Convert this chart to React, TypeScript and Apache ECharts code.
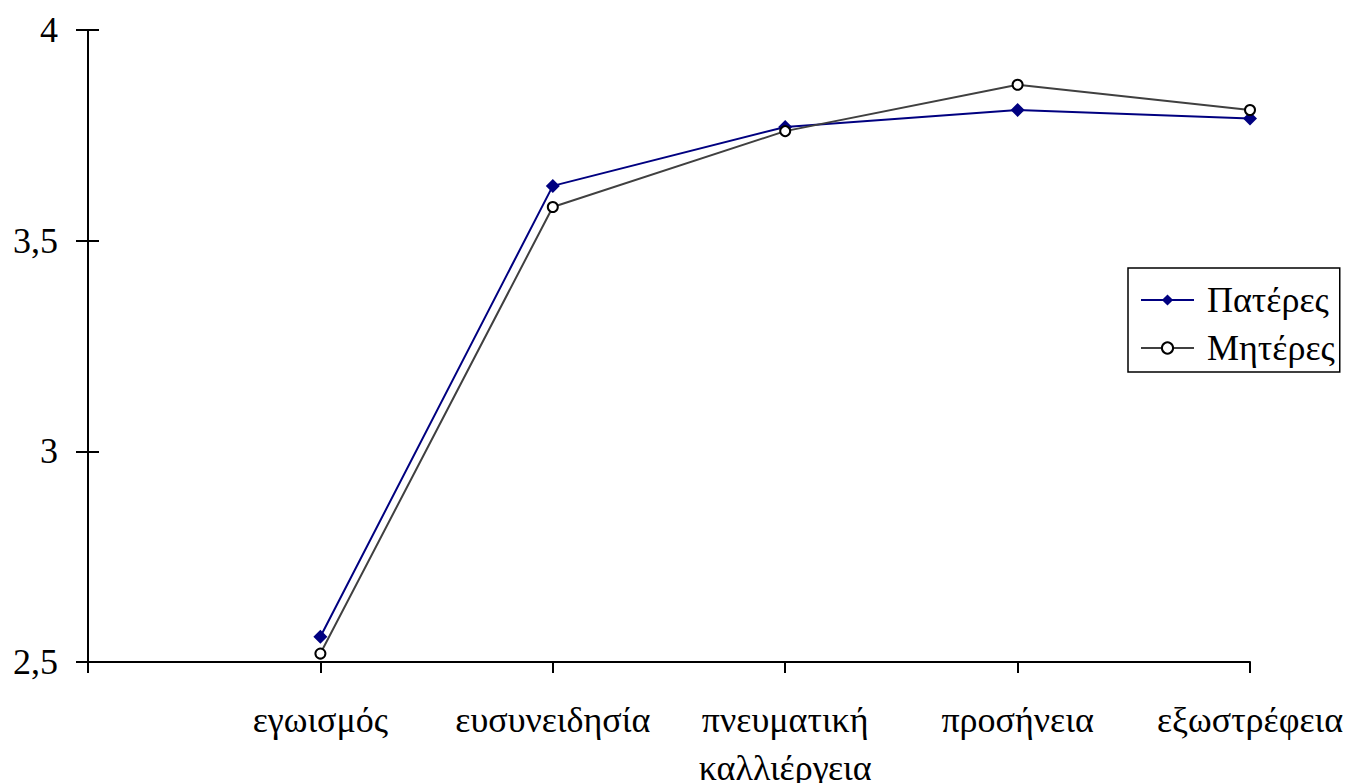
import React, { useEffect, useRef } from "react";
import * as echarts from "echarts";

const categories = ["", "εγωισμός", "ευσυνειδησία", "πνευματική\nκαλλιέργεια", "προσήνεια", "εξωστρέφεια"];
const fathers = [null, 2.56, 3.63, 3.77, 3.81, 3.79];
const mothers = [null, 2.52, 3.58, 3.76, 3.87, 3.81];
const yTicks = [2.5, 3, 3.5, 4];

const FONT = "Liberation Serif";
const FS = 36;

export default function App() {
  const ref = useRef<HTMLDivElement>(null);
  useEffect(() => {
    if (!ref.current) return;
    const chart = echarts.init(ref.current, null, { renderer: "svg" });
    chart.setOption({
      animation: false,
      backgroundColor: "#ffffff",
      textStyle: { fontFamily: FONT, fontSize: FS },
      grid: {
        left: 88,
        right: 102,
        top: 30,
        bottom: 121,
        containLabel: false,
        outerBoundsMode: "none",
      },
      legend: {
        left: 1128,
        top: 268,
        orient: "vertical",
        borderColor: "#000",
        borderWidth: 1.5,
        borderRadius: 0,
        padding: [14, 5, 6, 12],
        itemWidth: 53,
        itemHeight: 14,
        itemGap: 12,
        textStyle: { fontFamily: FONT, fontSize: FS, color: "#000", padding: [0, 0, 0, 8] },
        data: ["Πατέρες", "Μητέρες"],
      },
      xAxis: {
        type: "category",
        data: categories,
        boundaryGap: false,
        axisLine: { lineStyle: { color: "#000", width: 2 } },
        axisTick: { show: true, inside: false, length: 11, interval: 0, lineStyle: { color: "#000", width: 2 } },
        axisLabel: {
          interval: 0,
          color: "#000",
          fontFamily: FONT,
          fontSize: FS,
          lineHeight: 48,
          margin: 34,
          hideOverlap: false,
        },
        splitLine: { show: false },
      },
      yAxis: [
        {
          type: "value",
          min: 2.5,
          max: 4,
          interval: 0.5,
          axisLine: { show: true, lineStyle: { color: "#000", width: 2 } },
          axisTick: { show: true, inside: false, length: 12, lineStyle: { color: "#000", width: 2 } },
          axisLabel: {
            color: "#000",
            fontFamily: FONT,
            fontSize: FS,
            margin: 30,
            formatter: (v: number) => (yTicks.includes(v) ? String(v).replace(".", ",") : ""),
          },
          splitLine: { show: false },
        },
        {
          type: "value",
          min: 2.5,
          max: 4,
          interval: 0.5,
          position: "left",
          axisLine: { show: false },
          axisTick: { show: true, inside: true, length: 11, lineStyle: { color: "#000", width: 2 } },
          axisLabel: { show: false },
          splitLine: { show: false },
        },
      ],
      series: [
        {
          name: "Πατέρες",
          type: "line",
          data: fathers,
          color: "#000080",
          lineStyle: { color: "#000080", width: 2 },
          symbol: "diamond",
          symbolSize: 14,
          itemStyle: { color: "#000080", borderWidth: 0 },
          z: 3,
        },
        {
          name: "Μητέρες",
          type: "line",
          data: mothers,
          color: "#404040",
          lineStyle: { color: "#404040", width: 2 },
          symbol: "circle",
          symbolSize: 10,
          showAllSymbol: true,
          itemStyle: { color: "#ffffff", borderColor: "#000", borderWidth: 2 },
          z: 4,
        },
      ],
    });
    return () => chart.dispose();
  }, []);
  return (
    <div
      ref={ref}
      style={{ position: "absolute", left: 0, top: 0, width: 1352, height: 783 }}
    />
  );
}
